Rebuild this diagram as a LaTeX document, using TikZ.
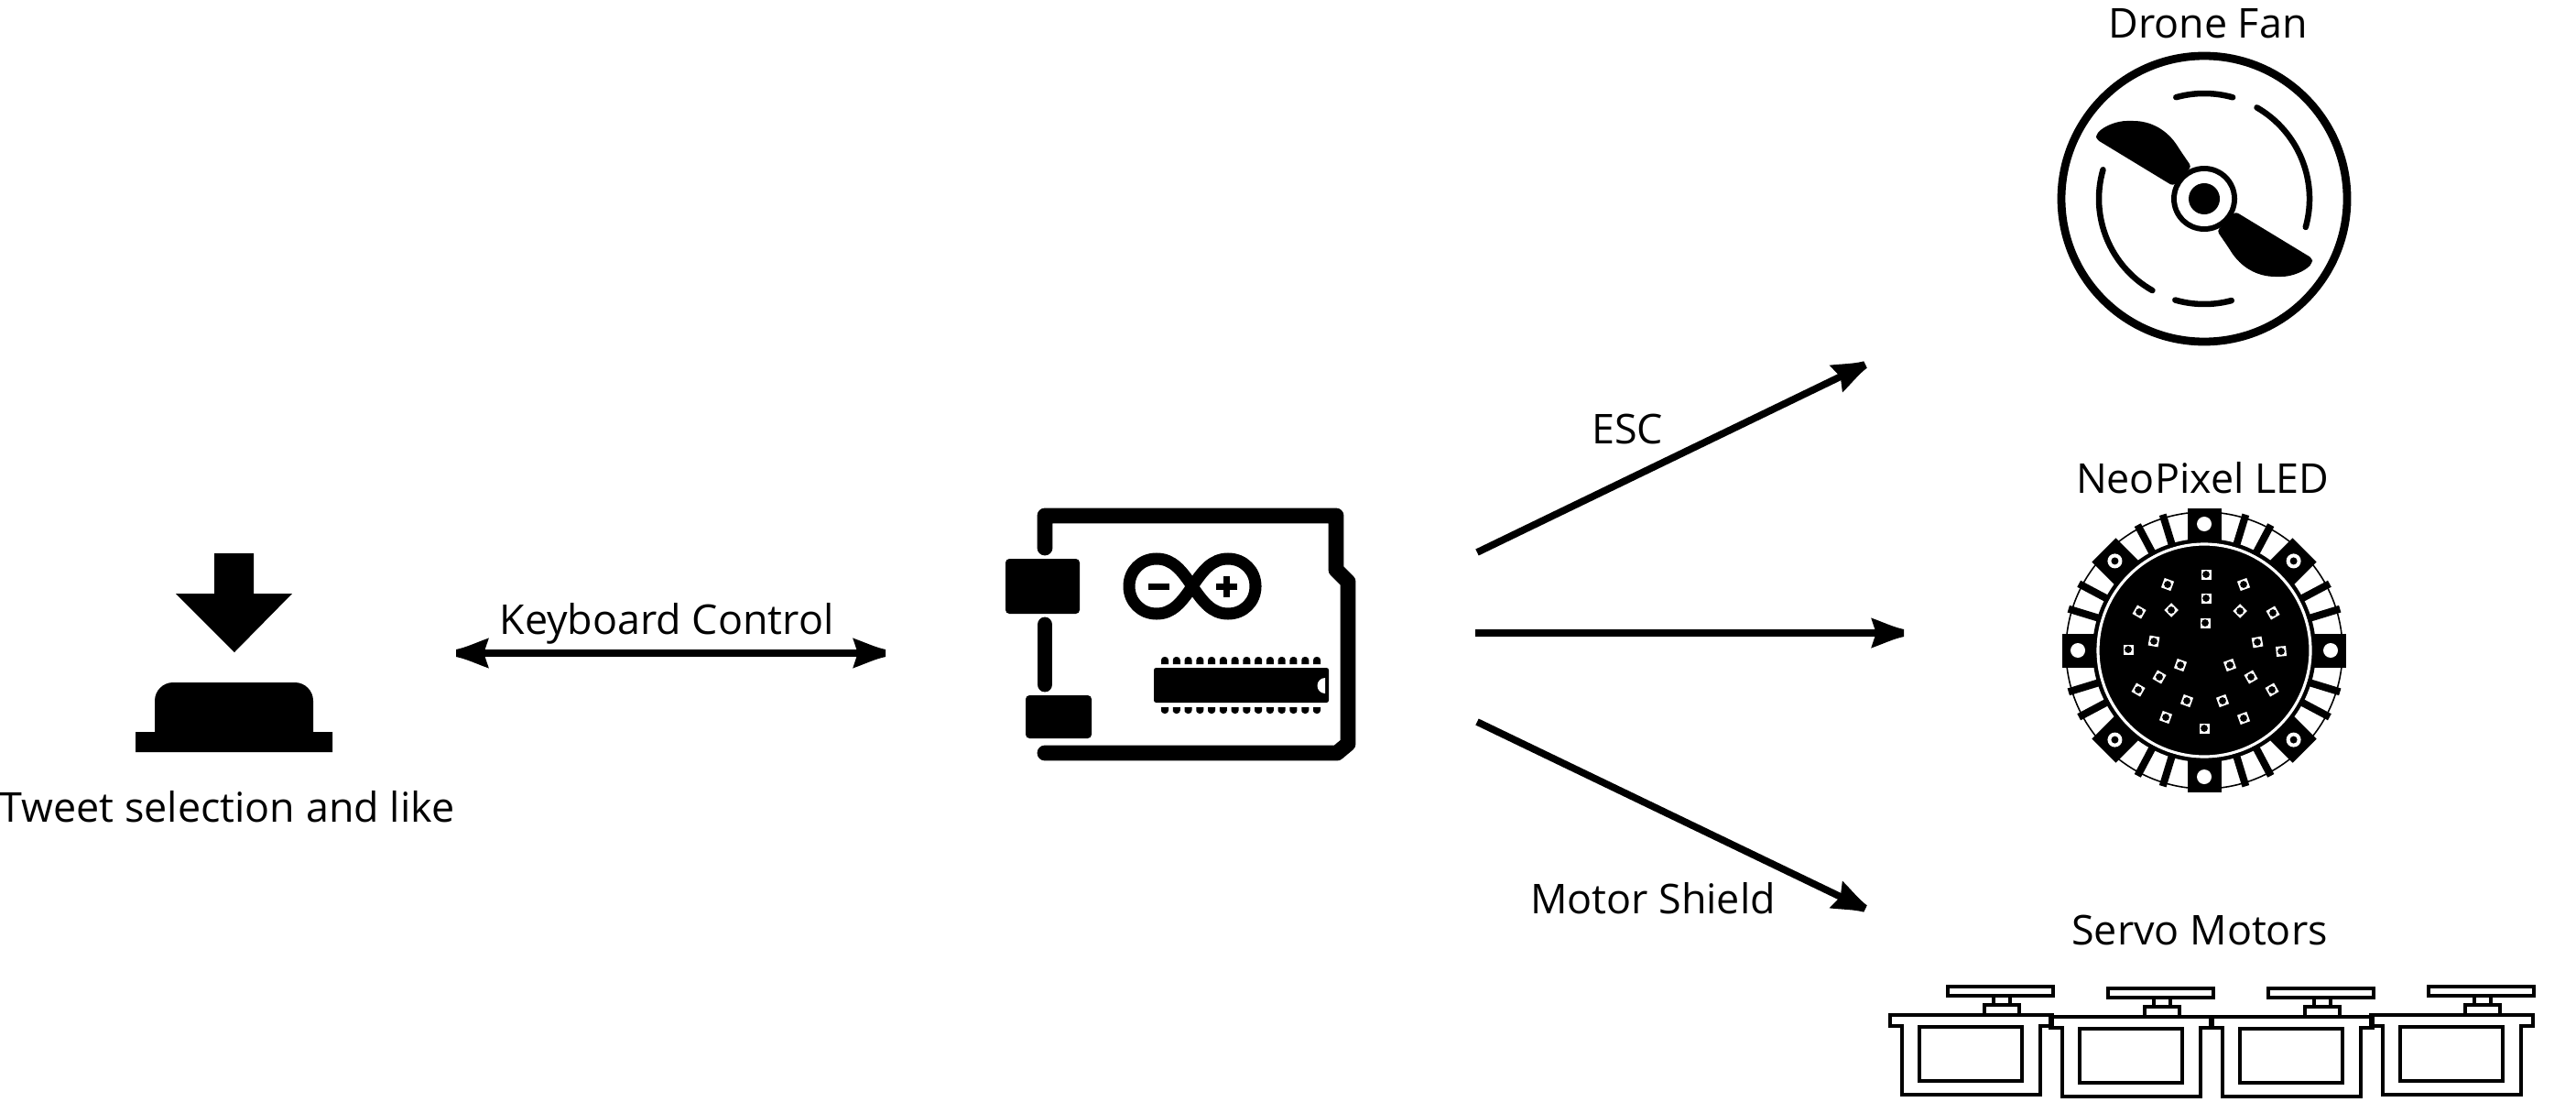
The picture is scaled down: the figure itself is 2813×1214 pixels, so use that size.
\documentclass[tikz,border=0pt]{standalone}
\usepackage{fontspec}
\setmainfont{Open Sans}
\usetikzlibrary{arrows.meta}
% arrow head of the links
\pgfdeclarearrow{
 name=Swoosh,
 setup code={\pgfarrowssettipend{0pt}\pgfarrowssetlineend{-7pt}\pgfarrowssetvisualbackend{-9pt}\pgfarrowssetbackend{-10.2pt}},
 drawing code={
  \pgfpathmoveto{\pgfqpoint{0pt}{1.15pt}}
  \pgfpathcurveto{\pgfqpoint{-3pt}{1.7pt}}{\pgfqpoint{-6.5pt}{3.4pt}}{\pgfqpoint{-10.2pt}{4.7pt}}
  \pgfpathlineto{\pgfqpoint{-8.6pt}{0pt}}
  \pgfpathlineto{\pgfqpoint{-10.2pt}{-4.7pt}}
  \pgfpathcurveto{\pgfqpoint{-6.5pt}{-3.4pt}}{\pgfqpoint{-3pt}{-1.7pt}}{\pgfqpoint{0pt}{-1.15pt}}
  \pgfpathclose\pgfusepathqfill}
}
\tikzset{
 wire/.style={line width=2.2pt,-{Swoosh}},
 caption/.style={anchor=base,inner sep=0pt,font=\fontsize{12.75pt}{16pt}\selectfont},
 servoline/.style={line width=1.15pt},
 boardline/.style={line width=4.8pt,line cap=round,line join=round}
}
\begin{document}
\begin{tikzpicture}[x=.01cm,y=.01cm]
 \useasboundingbox (0,0) rectangle (2813,1214);
 % push button
 \fill (234,610)--(277,610)--(277,566)--(319,566)--(256,502)--(192,566)--(234,566)--cycle;
 \fill (148,393)--(363,393)--(363,415)--(342,415)--(342,449) arc (0:90:20)--(189,469) arc (90:180:20)--(169,415)--(148,415)--cycle;
 \node[caption] (tweetlabel) at (248,317) {Tweet selection and like};
 % keyboard link
 \coordinate (keyleft) at (498,501);
 \coordinate (keyright) at (967,501);
 \draw[wire,{Swoosh}-{Swoosh}] (keyleft)--(keyright);
 \node[caption] (keylabel) at (728,522) {Keyboard Control};
 % board
 \draw[boardline] (1141,616)--(1141,651)--(1459,651)--(1459,592)--(1472,579)--(1472,402)--(1460,392)--(1141,392);
 \draw[boardline] (1141,532)--(1141,467);
 \fill[rounded corners=1.2pt] (1098,544) rectangle (1179,604);
 \fill[rounded corners=1.2pt] (1120,408) rectangle (1192,455);
 \begin{scope}[shift={(1302,574)}]
  \draw[line width=3.7pt] (0,0) .. controls (-12,18) and (-22,30) .. (-39,30)
   .. controls (-56,30) and (-69,17) .. (-69,0) .. controls (-69,-17) and (-56,-30) .. (-39,-30)
   .. controls (-22,-30) and (-12,-18) .. (0,0) .. controls (12,18) and (22,30) .. (39,30)
   .. controls (56,30) and (69,17) .. (69,0) .. controls (69,-17) and (56,-30) .. (39,-30)
   .. controls (22,-30) and (12,-18) .. (0,0)--cycle;
  \fill (-48,-3.5) rectangle (-25,3.5);
  \fill (25.5,-3.5) rectangle (48.5,3.5);
  \fill (33.5,-11.5) rectangle (40.5,11.5);
 \end{scope}
 \fill[rounded corners=.7pt] (1260,447) rectangle (1451,485);
 \fill[white] (1447,474) arc (90:270:8.5)--cycle;
 \foreach \n in {0,...,13}{
  \pgfmathsetmacro{\pinx}{1272+12.77*\n}
  \fill (\pinx-4,489)--(\pinx-4,494) [rounded corners=1pt] --(\pinx-4,497)--(\pinx+4,497) [sharp corners] --(\pinx+4,489)--cycle;
  \fill (\pinx-4,442)--(\pinx-4,437) [rounded corners=1pt] --(\pinx-4,435)--(\pinx+4,435) [sharp corners] --(\pinx+4,442)--cycle;
 }
 % outputs
 \coordinate (boardtop) at (1613,611);
 \coordinate (boardmid) at (1611,523);
 \coordinate (boardlow) at (1613,426);
 \coordinate (fanend) at (2037,816);
 \coordinate (ringend) at (2079,523);
 \coordinate (servoend) at (2037,222);
 \draw[wire] (boardtop)--(fanend);
 \draw[wire] (boardmid)--(ringend);
 \draw[wire] (boardlow)--(servoend);
 \node[caption] (esclabel) at (1777,730) {ESC};
 \node[caption] (motorlabel) at (1805,217) {Motor Shield};
 % fan
 \begin{scope}[shift={(2407,997)}]
  \draw[line width=2.5pt] (0,0) circle (156);
  \foreach \a/\b in {74.3/105.5,-15.6/60,164/240.5,254/285}
   \draw[line width=1.85pt,line cap=round] (\a:115) arc (\a:\b:115);
  \foreach \r in {0,180}
   \fill[rotate=\r,rounded corners=1pt] (-118,65)--(-34,14)--(-14,35)--(-27,54)
    .. controls (-40,75) and (-58,85) .. (-81,85) .. controls (-96,85) and (-110,79) .. (-118,70)--cycle;
  \fill (0,0) circle (36);
  \fill[white] (0,0) circle (30);
  \fill (0,0) circle (17);
 \end{scope}
 \node[caption] (fanlabel) at (2411,1172) {Drone Fan};
 % neopixel ring
 \begin{scope}[shift={(2407,504)}]
  \draw[line width=.45pt] (0,0) circle (151);
  \fill (0,0) circle (122);
  \draw[white,line width=.9pt] (0,0) circle (116);
  \foreach \a in {0,90,180,270}{
   \fill[rotate=\a] (-18.5,118) rectangle (18.5,155);
   \fill[white,rotate=\a] (0,138) circle (8);
   \fill[rotate=\a+45] (-18.5,118) rectangle (18.5,155);
   \fill[white,rotate=\a+45] (0,138) circle (8);
   \fill[rotate=\a+45] (0,138) circle (4);
   \foreach \d in {-28,-17,17,28}
    \fill[rotate=\a+\d] (-4,118) rectangle (4,155);
  }
  \foreach \x/\y/\r in {2/83/0,2/57/0,1/30/0,43/72/20,39/43/45,75/41/30,58/9/10,84/-1/5,28/-16/20,51/-29/30,74/-43/30,20/-55/20,43/-74/20,0/-85/0,-19/-55/-20,-42/-73/-20,-26/-16/-20,-49/-29/-30,-72/-43/-30,-55/10/-10,-83/1/0,-36/44/45,-71/42/-30,-40/72/-20}{
   \fill[white,rotate around={\r:(\x,\y)}] (\x-5.5,\y-5.5) rectangle (\x+5.5,\y+5.5);
   \fill (\x,\y) circle (3.9);
  }
 \end{scope}
 \node[caption] (ringlabel) at (2405,676) {NeoPixel LED};
 % servos
 \foreach \sx/\sy in {0/0,175/-2,350/-2,525/0}{
  \begin{scope}[shift={(2077+\sx,19+\sy)},servoline]
   \draw (-13,87)--(-13,75)--(0,75)--(0,0)--(151,0)--(151,75)--(164,75)--(164,87)--cycle;
   \draw (19,15) rectangle (131,74);
   \draw (90,87)--(90,98)--(128,98)--(128,87);
   \draw (100,98)--(100,108);
   \draw (118,98)--(118,108);
   \draw (50,108) rectangle (165,118);
  \end{scope}
 }
 \node[caption] (servolabel) at (2402,183) {Servo Motors};
\end{tikzpicture}
\end{document}
